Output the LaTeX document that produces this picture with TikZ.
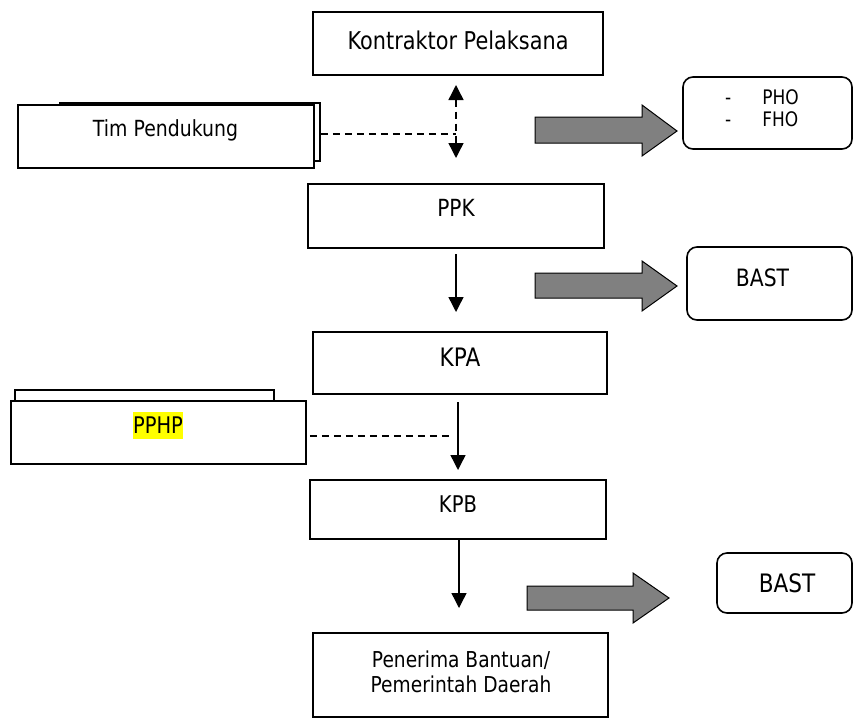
\documentclass[tikz,border=0pt]{standalone}
\usepackage{fontspec}
\setmainfont{DejaVu Sans}[FakeStretch=0.85]
\usetikzlibrary{arrows.meta}
\definecolor{garrow}{HTML}{808080}
\definecolor{hl}{HTML}{FFFF00}
\begin{document}
\begin{tikzpicture}[x=1pt,y=-1pt,
  box/.style={draw, line width=1.6pt, rectangle, inner sep=0pt},
  rbox/.style={draw, line width=1.6pt, rounded corners=10pt, inner sep=0pt},
  lbl/.style={inner sep=0pt, anchor=base},
  conn/.style={line width=1.4pt, -{Triangle[width=15pt,length=15pt]}},
  dconn/.style={line width=1.4pt, dash pattern=on 7pt off 5pt},
  dbl/.style={line width=1.4pt, dash pattern=on 7pt off 5pt, {Triangle[width=15pt,length=15pt]}-{Triangle[width=15pt,length=15pt]}},
  blk/.style={draw, line width=1pt, fill=garrow, line join=miter}
]
\useasboundingbox (0,0) rectangle (853,720);

% Kontraktor
\node[box, minimum width=290pt, minimum height=63pt] (kon) at (458,43.5) {};
\node[lbl, font=\fontsize{24.5}{29}\selectfont] (kont) at (458,49) {Kontraktor Pelaksana};

% Tim Pendukung (stacked)
\node[box, fill=white, minimum width=260pt, minimum height=58pt] (timb) at (190,132) {};
\node[box, fill=white, minimum width=296pt, minimum height=63pt] (tim) at (166,136.5) {};
\node[lbl, font=\fontsize{22.2}{26}\selectfont] (timt) at (165.5,136) {Tim Pendukung};

% double arrow
\coordinate (dtop) at (456,85);
\coordinate (dbot) at (456,158);
\coordinate (dmid) at (456,134);
\draw[dbl] (dtop) -- (dbot);
\draw[dconn] (timb.east |- dmid) -- (dmid);

% PHO box
\draw[blk] (535,117) -- (642,117) -- (642,105) -- (677,131) -- (642,156) -- (642,143) -- (535,143) -- cycle;
\node[rbox, minimum width=169pt, minimum height=72pt] (pho) at (767.5,113) {};
\node[inner sep=0pt, anchor=base west, align=left, font=\fontsize{20}{22}\selectfont] (phot) at (725,126) {-\hspace{31pt}PHO\\-\hspace{31pt}FHO};

% PPK
\node[box, minimum width=296pt, minimum height=64pt] (ppk) at (456,216) {};
\node[lbl, font=\fontsize{23.6}{27}\selectfont] (ppkt) at (456,216.7) {PPK};
\coordinate (a1s) at (456,254);
\coordinate (a1e) at (456,312);
\draw[conn] (a1s) -- (a1e);

% BAST 1
\draw[blk] (535,273) -- (642,273) -- (642,261) -- (677,286) -- (642,311) -- (642,298) -- (535,298) -- cycle;
\node[rbox, minimum width=165pt, minimum height=73pt] (bast1) at (769.5,283.5) {};
\node[lbl, font=\fontsize{23.9}{28}\selectfont] (bast1t) at (762.5,286) {BAST};

% KPA
\node[box, minimum width=294pt, minimum height=62pt] (kpa) at (460,363) {};
\node[lbl, font=\fontsize{25.4}{29}\selectfont] (kpat) at (460,366.7) {KPA};
\coordinate (a2s) at (458,402);
\coordinate (a2e) at (458,470);
\draw[conn] (a2s) -- (a2e);

% PPHP (stacked)
\node[box, fill=white, minimum width=259pt, minimum height=16pt] (pphpb) at (144.5,398) {};
\node[box, fill=white, minimum width=295pt, minimum height=63pt] (pphp) at (158.5,432.5) {};
\node[lbl, fill=hl, text height=21.5pt, text depth=6pt, font=\fontsize{22.9}{26}\selectfont] (pphpt) at (158,433) {PPHP};
\coordinate (pphpd) at (451,436);
\draw[dconn] (pphp.east |- pphpd) ++(3,0) -- (pphpd);

% KPB
\node[box, minimum width=296pt, minimum height=59pt] (kpb) at (458,509.5) {};
\node[lbl, font=\fontsize{23}{27}\selectfont] (kpbt) at (458,512.7) {KPB};
\coordinate (a3s) at (459,540);
\coordinate (a3e) at (459,608);
\draw[conn] (a3s) -- (a3e);

% BAST 2
\draw[blk] (527,586) -- (633,586) -- (633,573) -- (669,598) -- (633,623) -- (633,610) -- (527,610) -- cycle;
\node[rbox, minimum width=135pt, minimum height=60pt] (bast2) at (784.5,583) {};
\node[lbl, font=\fontsize{25.4}{29}\selectfont] (bast2t) at (787,592.7) {BAST};

% Penerima
\node[box, minimum width=295pt, minimum height=84pt] (pen) at (460.5,675) {};
\node[lbl, align=center, font=\fontsize{21.9}{25}\selectfont] (pent) at (461,692) {Penerima Bantuan/\\Pemerintah Daerah};
\end{tikzpicture}
\end{document}
